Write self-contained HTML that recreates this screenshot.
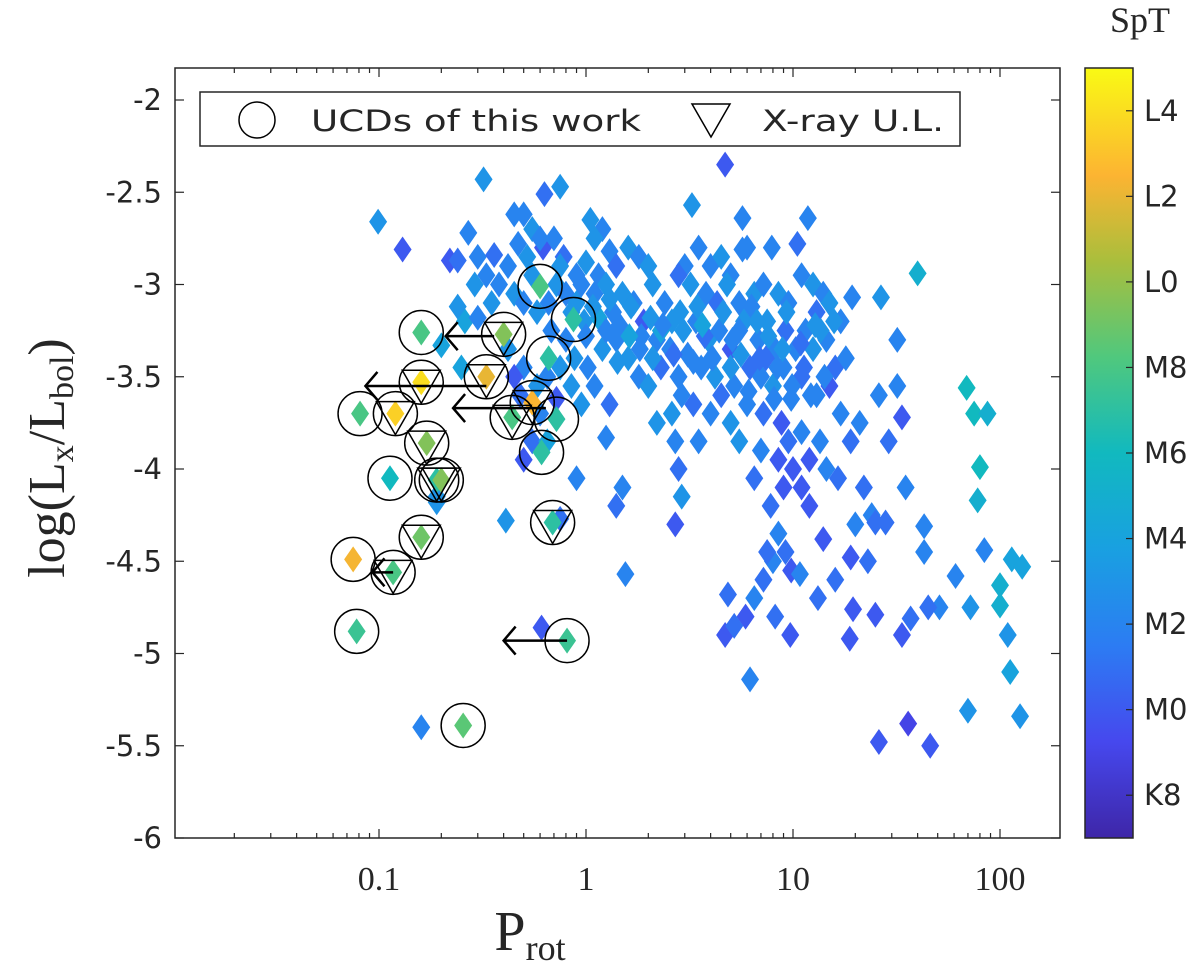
<!DOCTYPE html>
<html><head><meta charset="utf-8"><style>
html,body{margin:0;padding:0;background:#fff;}
svg{display:block;}
.tk{font-family:"DejaVu Sans","Liberation Sans",sans-serif;font-size:29px;fill:#262626;}
.sf{font-family:"Liberation Serif","DejaVu Serif",serif;fill:#262626;}
</style></head><body>
<svg id="chart" width="1200" height="964" viewBox="0 0 1200 964" xmlns="http://www.w3.org/2000/svg">
<g id="ticks"></g>
<g id="field"></g>
<g id="ucd"></g>
<g id="legend">
  <rect x="200" y="92" width="760" height="54" fill="#fff" stroke="#262626" stroke-width="1.5"/>
  <circle cx="257" cy="120" r="18" fill="none" stroke="#000" stroke-width="1.5"/>
  <text x="311" y="131" class="tk" textLength="330" lengthAdjust="spacingAndGlyphs">UCDs of this work</text>
  <path d="M692 104 L730 104 L711 137 Z" fill="none" stroke="#000" stroke-width="1.5"/>
  <text x="762" y="131" class="tk" textLength="182" lengthAdjust="spacingAndGlyphs">X-ray U.L.</text>
</g>
</svg>
<script>
const xTicks=[0.1,1,10,100];
const xTickLabels=["0.1","1","10","100"];
const yTicks=[-2,-2.5,-3,-3.5,-4,-4.5,-5,-5.5,-6];
const yTickLabels=["-2","-2.5","-3","-3.5","-4","-4.5","-5","-5.5","-6"];
const cbTicks=[14,12,10,8,6,4,2,0,-2];
const cbTickLabels=["L4","L2","L0","M8","M6","M4","M2","M0","K8"];
const fieldP=[0.099,0.13,0.22,0.24,0.32,0.27,0.3,0.29,0.33,0.36,0.26,0.24,0.3,0.35,0.38,0.2,0.25,0.19,0.16,0.41,0.5,0.61,0.19,
0.45,0.5,0.63,0.75,0.55,0.47,0.42,0.52,0.62,0.7,0.78,0.45,0.5,0.58,0.66,0.72,0.8,0.9,0.95,0.42,0.5,0.48,0.58,0.65,0.75,0.8,0.72,0.6,0.55,0.45,0.85,0.75,0.9,0.95,0.98,
1.05,1.2,1.1,1.3,1.0,1.15,1.4,1.6,1.8,2.0,1.1,1.25,1.35,1.5,1.7,1.9,2.1,2.4,2.6,2.2,1.2,1.4,1.6,1.8,2.0,2.3,2.8,1.1,1.3,1.25,1.5,1.4,1.55,2.2,2.6,2.9,2.7,2.8,2.9,2.7,3.0,3.25,2.8,
4.7,5.7,3.5,4.0,4.5,5.0,6.0,7.9,5.7,3.2,3.8,4.3,4.8,5.5,6.5,7.2,8.5,9.5,3.4,3.9,4.4,5.0,5.8,6.8,7.5,8.2,9.2,3.6,4.2,5.2,6.2,7.0,8.0,9.0,3.3,4.0,5.0,6.0,7.2,8.8,9.8,3.5,5.5,7.0,8.5,9.5,6.5,9.0,10,7.8,8.5,9.2,9.8,8.0,7.2,5.9,4.7,4.85,6.2,8.2,9.7,6.5,5.2,10.8,7.5,
11.8,10.5,11,12.5,14,13,15,17,19.3,11.5,12.5,14.5,16,18,11,13,15,17,19,21,11,12,13.5,14.5,16.5,11,12,14,22,24,19,23,25,28,20,13.2,16,19.5,25,18.8,33.6,37,26.6,31.9,31.9,33.6,26,36,26,29,35,
40,69,75,87,80,78,84,43,43,61,51,72,109,100,100,114,128,112,70,125,46,45,
0.55,0.68,0.85,1.0,1.15,1.3,1.45,1.65,1.85,2.05,2.3,2.55,2.85,3.1,3.45,3.75,4.1,4.6,5.1,5.6,6.3,6.9,7.6,8.4,9.3,10.3,11.3,12.8,14.2,15.8,
0.6,0.75,0.9,1.08,1.25,1.42,1.62,1.82,2.1,2.35,2.65,2.95,3.3,3.65,4.05,4.5,5.0,5.5,6.1,6.7,7.4,8.1,8.9,9.9,10.9,12.2,13.6,0.65,0.88,1.02];
const fieldL=[-2.66,-2.81,-2.87,-2.87,-2.43,-2.72,-2.85,-3.0,-2.95,-2.84,-3.2,-3.12,-3.18,-3.1,-3.0,-3.33,-3.45,-4.15,-5.40,-4.28,-3.95,-4.86,-4.18,
-2.62,-2.62,-2.51,-2.47,-2.7,-2.78,-2.9,-2.85,-2.8,-2.75,-2.85,-3.05,-3.1,-3.15,-3.1,-3.0,-3.05,-3.1,-3.0,-3.35,-3.45,-3.6,-3.55,-3.5,-3.45,-3.3,-3.62,-3.7,-3.85,-3.5,-3.55,-4.27,-4.05,-3.65,-3.2,
-2.65,-2.7,-2.75,-2.82,-2.88,-2.95,-2.9,-2.8,-2.85,-2.9,-3.05,-3.0,-3.15,-3.05,-3.1,-3.2,-3.0,-3.1,-3.2,-3.3,-3.35,-3.3,-3.4,-3.5,-3.55,-3.45,-3.5,-3.55,-3.65,-3.83,-4.1,-4.2,-4.57,-3.75,-3.7,-3.6,-3.85,-4.0,-4.15,-4.3,-2.9,-2.57,-2.95,
-2.35,-2.64,-2.8,-2.9,-2.85,-2.95,-2.8,-2.8,-2.81,-3.0,-3.05,-3.1,-3.0,-3.1,-3.05,-3.0,-3.05,-3.1,-3.2,-3.3,-3.25,-3.35,-3.2,-3.3,-3.2,-3.35,-3.25,-3.45,-3.5,-3.55,-3.45,-3.5,-3.55,-3.45,-3.65,-3.7,-3.75,-3.65,-3.7,-3.75,-3.62,-3.85,-3.85,-3.9,-3.95,-3.85,-4.05,-4.1,-4.0,-4.2,-4.35,-4.45,-4.55,-4.5,-4.6,-4.8,-4.9,-4.68,-5.14,-4.8,-4.9,-4.7,-4.85,-4.57,-4.45,
-2.64,-2.78,-2.95,-3.0,-3.05,-3.15,-3.1,-3.2,-3.07,-3.25,-3.35,-3.3,-3.45,-3.4,-3.5,-3.6,-3.55,-3.7,-3.85,-3.75,-3.8,-3.95,-3.85,-4.0,-4.05,-4.1,-4.2,-4.38,-4.1,-4.25,-4.48,-4.5,-4.29,-4.29,-4.3,-4.7,-4.6,-4.76,-4.79,-4.92,-4.9,-4.81,-3.07,-3.3,-3.55,-3.72,-3.6,-5.38,-5.48,-3.85,-4.1,
-2.94,-3.56,-3.70,-3.70,-3.99,-4.17,-4.44,-4.45,-4.31,-4.58,-4.75,-4.75,-4.90,-4.74,-4.63,-4.49,-4.53,-5.10,-5.31,-5.34,-5.50,-4.75,
-2.95,-3.25,-3.15,-3.28,-3.18,-3.08,-3.22,-3.12,-3.28,-3.18,-3.25,-3.35,-3.15,-3.38,-3.12,-3.28,-3.4,-3.15,-3.3,-3.38,-3.12,-3.4,-3.28,-3.45,-3.15,-3.35,-3.45,-3.22,-3.5,-3.2,
-2.75,-2.9,-2.95,-3.12,-3.25,-3.42,-3.28,-3.35,-3.4,-3.22,-3.38,-3.25,-3.42,-3.22,-3.4,-3.6,-3.45,-3.25,-3.58,-3.2,-3.4,-3.62,-3.35,-3.55,-3.32,-3.6,-3.25,-3.85,-3.4,-3.45];
const fieldS=[3,0,0,1,3,2,2,3,2,1,4,3,2,3,2,4,4,3,2,3,0,0,3,
2,2,1,3,3,2,2,3,0,2,1,3,2,3,2,3,2,3,2,3,2,1,3,2,3,2,0,2,1,0,3,1,2,3,3,
3,2,3,2,3,2,1,3,2,3,2,3,2,3,2,0,3,2,3,2,3,2,3,2,3,1,2,2,1,2,2,1,2,3,3,2,2,1,3,0,2,3,1,
0,2,2,2,3,2,2,2,2,3,2,1,3,2,3,2,3,2,2,3,2,0,3,2,3,2,1,2,3,2,1,2,3,2,1,2,3,2,1,0,2,2,3,2,0,1,1,0,0,1,2,1,0,2,1,0,0,1,2,1,0,2,1,2,1,
2,1,2,3,2,1,3,2,2,2,3,2,1,2,1,2,0,2,1,2,2,0,2,2,1,0,0,0,1,2,0,1,1,1,2,1,1,0,0,0,0,1,3,2,2,0,2,-1,0,1,2,
5,6,6,5,6,5,2,2,2,2,2,3,3,5,5,4,4,4,3,3,0,1,
3,2,3,2,4,3,2,3,2,3,4,2,3,2,3,1,2,3,2,3,2,1,3,2,3,2,1,3,2,3,
2,3,2,3,2,3,4,2,3,2,1,3,2,4,2,1,3,2,2,3,1,2,3,2,1,2,3,4,3,2];
const ucdP=[0.60,0.87,0.16,0.40,0.66,0.33,0.55,0.12,0.081,0.44,0.72,0.17,0.61,0.113,0.19,0.20,0.69,0.16,0.075,0.117,0.078,0.81,0.255,0.16];
const ucdL=[-3.01,-3.19,-3.26,-3.27,-3.40,-3.50,-3.64,-3.70,-3.70,-3.72,-3.73,-3.86,-3.91,-4.05,-4.06,-4.06,-4.29,-4.37,-4.49,-4.56,-4.88,-4.93,-5.39,-3.53];
const ucdS=[8,7,8,9.5,7,12,12.5,13.5,8,8,7,9.5,7,6,7,9.5,7,9,12.3,8,7.5,7.5,8.5,14];
const ucdUL=[0,0,0,1,0,1,1,1,0,1,0,1,0,0,1,1,1,1,0,1,0,0,0,1];
const arrowL=[-3.28,-3.55,-3.67,-4.56,-4.93];
const arrowFrom=[0.36,0.33,0.64,0.117,0.81];
const arrowTo=[0.21,0.086,0.228,0.093,0.40];

const X0=175,X1=1060,Y0=68,Y1=838;
const xs=p=>586+207*Math.log10(p);
const ys=l=>469-184.5*(l+4);
const CB0=68,CB1=838,SMIN=-3,SMAX=15;
const cbs=s=>CB1-(s-SMIN)/(SMAX-SMIN)*(CB1-CB0);
const stops=[[0,62,38,168],[0.125,70,72,238],[0.25,44,124,243],[0.375,25,160,225],[0.5,17,185,191],[0.625,80,200,125],[0.75,170,190,60],[0.86,252,180,50],[1,249,250,20]];
function color(s){let t=(s-SMIN)/(SMAX-SMIN);t=Math.max(0,Math.min(1,t));
 for(let i=1;i<stops.length;i++){if(t<=stops[i][0]){const a=stops[i-1],b=stops[i],f=(t-a[0])/(b[0]-a[0]);
 return `rgb(${[1,2,3].map(k=>Math.round(a[k]+f*(b[k]-a[k]))).join(',')})`;}}return 'rgb(249,250,20)';}
const NS='http://www.w3.org/2000/svg';
function mk(tag,attrs,parent){const e=document.createElementNS(NS,tag);for(const k in attrs)e.setAttribute(k,attrs[k]);parent.appendChild(e);return e;}
const svg=document.getElementById('chart');
const tg=document.getElementById('ticks');
const defs=mk('defs',{},svg);
const grad=mk('linearGradient',{id:'parula',x1:'0',y1:'1',x2:'0',y2:'0'},defs);
stops.forEach(s=>{mk('stop',{offset:s[0],'stop-color':`rgb(${s[1]},${s[2]},${s[3]})`},grad);});
let box=mk('rect',{x:X0,y:Y0,width:X1-X0,height:Y1-Y0,fill:'none',stroke:'#262626','stroke-width':1.5},tg);


for(let d=-2;d<=2;d++){for(let m=1;m<=9;m++){const v=m*Math.pow(10,d);const x=xs(v);if(x<X0+1||x>X1-1)continue;const len=m===1?9:5;
 let t1=mk('line',{x1:x,x2:x,y1:Y1,y2:Y1-len,stroke:'#262626','stroke-width':1.2},tg);
 
 
 let t2=mk('line',{x1:x,x2:x,y1:Y0,y2:Y0+len,stroke:'#262626','stroke-width':1.2},tg);
 
 }}
xTicks.forEach((v,i)=>{let t=mk('text',{x:xs(v),y:890,'text-anchor':'middle',class:'sf','font-size':34},tg);t.textContent=xTickLabels[i];
 
 });
yTicks.forEach((v,i)=>{const y=ys(v);
 let l=mk('line',{x1:X0,x2:X0+9,y1:y,y2:y,stroke:'#262626','stroke-width':1.2},tg);
 
 
 let r=mk('line',{x1:X1,x2:X1-9,y1:y,y2:y,stroke:'#262626','stroke-width':1.2},tg);
 
 
 let t=mk('text',{x:162,y:y+10,'text-anchor':'end',class:'tk'},tg);t.textContent=yTickLabels[i];
 
 });
let xt=mk('text',{x:530,y:950,'text-anchor':'middle',class:'sf','font-size':56},tg);
xt.innerHTML='P<tspan font-size="36" dy="10">rot</tspan>';


let yt=mk('text',{x:0,y:0,'text-anchor':'middle',class:'sf','font-size':52,transform:'translate(64,458) rotate(-90)'},tg);
yt.innerHTML='log(L<tspan font-size="34" dy="9">x</tspan><tspan dy="-9">/L</tspan><tspan font-size="34" dy="9">bol</tspan><tspan dy="-9">)</tspan>';


let cb=mk('rect',{x:1085,y:CB0,width:48,height:CB1-CB0,fill:'url(#parula)',stroke:'#262626','stroke-width':1.5},tg);


cbTicks.forEach((v,i)=>{const y=cbs(v);
 let l=mk('line',{x1:1133,x2:1126,y1:y,y2:y,stroke:'#262626','stroke-width':1.2},tg);
 
 
 let t=mk('text',{x:1144,y:y+10,class:'tk','font-size':27},tg);t.textContent=cbTickLabels[i];
 
 });
let cbt=mk('text',{x:1140,y:32,'text-anchor':'middle',class:'sf','font-size':36},tg);cbt.textContent='SpT';


function diamond(g,p,l,s,name){const x=xs(p),y=ys(l);
 const d=mk('path',{d:`M${x} ${y-13}L${x+9} ${y}L${x} ${y+13}L${x-9} ${y}Z`,fill:color(s)},g);
 
 }
const fg=document.getElementById('field');
fieldP.forEach((p,i)=>diamond(fg,p,fieldL[i],fieldS[i],'field-star-point'));
const ug=document.getElementById('ucd');
ucdP.forEach((p,i)=>diamond(ug,p,ucdL[i],ucdS[i],'ucd-point'));
ucdP.forEach((p,i)=>{const x=xs(p),y=ys(ucdL[i]);
 const c=mk('circle',{cx:x,cy:y,r:22,fill:'none',stroke:'#000','stroke-width':1.5},ug);
 
 
 if(ucdUL[i]){const t=mk('path',{d:`M${x-19} ${y-12}L${x+19} ${y-12}L${x} ${y+21}Z`,fill:'none',stroke:'#000','stroke-width':1.5},ug);
 
 }});
arrowL.forEach((l,i)=>{const y=ys(l),x1=xs(arrowFrom[i]),x2=xs(arrowTo[i]);
 const a=mk('path',{d:`M${x1} ${y}L${x2} ${y}M${x2+12} ${y-14}L${x2} ${y}L${x2+12} ${y+14}`,fill:'none',stroke:'#000','stroke-width':2.5},ug);
 
 });
</script>
</body></html>
